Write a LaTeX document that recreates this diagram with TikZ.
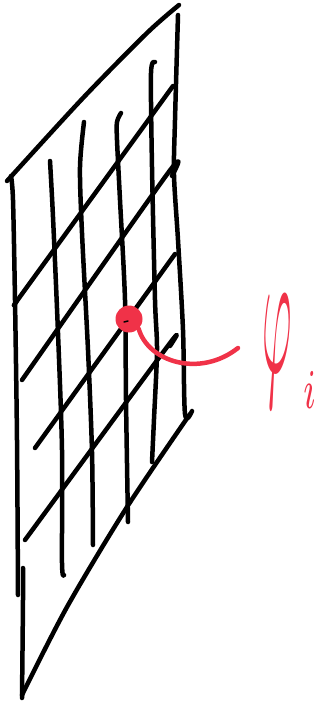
\documentclass[tikz,border=0pt]{standalone}
\usepackage{graphicx}
\definecolor{inkred}{RGB}{240,50,72}
\tikzset{
  ink/.style={line width=4.5pt, line cap=round, line join=round, black},
  redink/.style={line width=4.5pt, line cap=round, line join=round, inkred},
  dotstyle/.style={circle, fill=inkred, inner sep=0pt, minimum size=27pt},
  lblstyle/.style={text=inkred, inner sep=0pt, anchor=base west}
}
\begin{document}
\begin{tikzpicture}[x=1pt,y=-1pt]
\useasboundingbox (0,0) rectangle (323,704);
% outline
\draw[ink] plot[smooth] coordinates {(7,181) (83,98) (147,33) (179,5)};
\draw[ink] plot[smooth] coordinates {(178,15) (175,120) (174,175) (178,240) (183,330) (185,414) (192,411)};
\draw[ink] plot[smooth] coordinates {(11,176) (13,200) (15,300) (17,440) (18,595)};
\draw[ink] plot[smooth] coordinates {(23,568) (23,600) (22,698)};
\draw[ink] plot[smooth] coordinates {(190,414) (127,507) (67,607) (22,695)};
% vertical strokes
\draw[ink] plot[smooth] coordinates {(50,161) (53,217) (58,333) (62,450) (62,563) (64,575)};
\draw[ink] plot[smooth] coordinates {(84,122) (80,167) (82,233) (88,350) (92,452) (93,545)};
\draw[ink] plot[smooth] coordinates {(121,113) (117,122) (117,140) (120,200) (125,300) (126,400) (128,522)};
\draw[ink] plot[smooth] coordinates {(155,62) (151,73) (152,167) (155,300) (157,350) (154,419) (152,462)};
% diagonal strokes
\draw[ink] plot[smooth] coordinates {(17,301) (27,287) (173,86)};
\draw[ink] plot[smooth] coordinates {(22,380) (168,173) (172,176)};
\draw[ink] plot[smooth] coordinates {(35,448) (175,254)};
\draw[ink] plot[smooth] coordinates {(25,540) (167,347) (170,346)};
% red point and label
\node[dotstyle] (dot) at (129,319) {};
\draw[line width=1.5pt, line cap=round] (124,322) -- (128,321);
\node[lblstyle] (lbl) at (262,372) {\scalebox{4.5}[18]{$\varphi$}\kern12pt\raisebox{-36pt}{\scalebox{4.5}[8]{$\scriptstyle i$}}};
\coordinate (cend) at (238,348);
\draw[redink] (dot.south east) .. controls (148,362) and (200,378) .. (cend);
\end{tikzpicture}
\end{document}
